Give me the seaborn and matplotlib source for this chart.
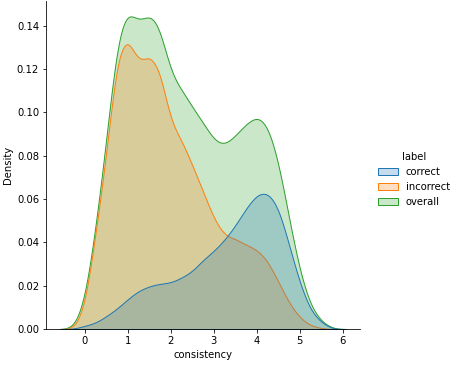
import numpy as np
import pandas as pd
import seaborn as sns
import matplotlib.pyplot as plt

# Consistency score values and how many answers were observed at each
consistency = [0.0, 0.25, 0.5, 0.75, 1.0, 1.25, 1.5, 1.75, 2.0, 2.25, 2.5, 2.75,
               3.0, 3.25, 3.5, 3.75, 4.0, 4.25, 4.5, 4.75, 5.0, 5.25, 5.5]
correct_count = [1.5, 2.65, 5.9, 9.3, 13.9, 17.85, 19.9, 21.1, 21.3, 23.8, 26.5, 32.2,
                 36.0, 41.2, 47.8, 56.0, 62.8, 64.0, 57.3, 39.2, 21.0, 8.05, 3.0]
incorrect_count = [9.0, 44.0, 80.0, 128.0, 137.0, 122.0, 128.0, 121.0, 95.0, 88.0, 76.0, 64.0,
                   51.0, 43.0, 42.0, 39.0, 37.0, 32.0, 22.0, 12.0, 5.0, 1.5, 0.3]
label_names = ["correct", "incorrect", "overall"]

rows_c = pd.DataFrame({"consistency": consistency, "count": correct_count, "label": label_names[0]})
rows_i = pd.DataFrame({"consistency": consistency, "count": incorrect_count, "label": label_names[1]})
rows_o = pd.concat([rows_c, rows_i], ignore_index=True).assign(label=label_names[2])
df = pd.concat([rows_c, rows_i, rows_o], ignore_index=True)

W, H = 461, 371
fig = plt.figure(figsize=(W / 72, H / 72), dpi=72)
ax = fig.add_axes([46 / W, 42 / H, (360 - 46) / W, 329 / H - 0.002])

sns.kdeplot(data=df, x="consistency", hue="label", hue_order=label_names,
            weights="count", fill=True, bw_method=0.14, cut=2.4, ax=ax)
sns.despine(ax=ax)
sns.move_legend(ax, "center left", bbox_to_anchor=(0.80, 0.517),
                bbox_transform=fig.transFigure, frameon=False)

fig.savefig("out.png", dpi=72)
